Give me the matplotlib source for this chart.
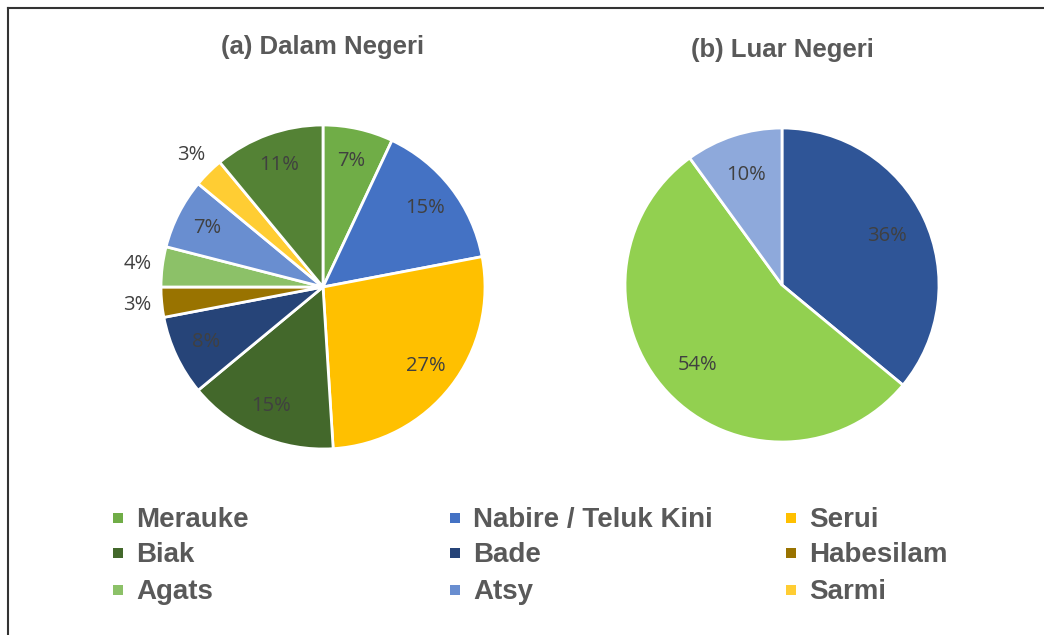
import numpy as np
import matplotlib
matplotlib.use('Agg')
import matplotlib.pyplot as plt
from matplotlib.lines import Line2D
from matplotlib.patches import Rectangle

# ---- data ----
dalam_names = ['Merauke', 'Nabire / Teluk Kini', 'Serui', 'Biak', 'Bade',
               'Habesilam', 'Agats', 'Atsy', 'Sarmi', 'Lainnya']
dalam_pct = [7, 15, 27, 15, 8, 3, 4, 7, 3, 11]
dalam_colors = ['#70AD47', '#4472C4', '#FFC000', '#43682B', '#264478',
                '#997300', '#8CC168', '#698ED0', '#FFCD33', '#548235']

luar_pct = [36, 54, 10]
luar_colors = ['#2F5597', '#92D050', '#8EA9DB']

# legend rows as shown (last slice has no visible legend entry)
legend_rows = [['Merauke', 'Nabire / Teluk Kini', 'Serui'],
               ['Biak', 'Bade', 'Habesilam'],
               ['Agats', 'Atsy', 'Sarmi']]

W, H = 1044, 635
fig = plt.figure(figsize=(W / 100, H / 100), dpi=100)
fig.patch.set_facecolor('white')

TXT = '#404040'
TITLE = '#595959'


def pie_axes(cx, cy, r):
    return fig.add_axes([(cx - r) / W, (H - cy - r) / H, 2 * r / W, 2 * r / H])


def draw_pie(ax, values, colors, inner=0.8, outer=1.15, small=4):
    wedges, _ = ax.pie(values, colors=colors, startangle=90, counterclock=False,
                       radius=1, wedgeprops=dict(edgecolor='white', linewidth=2))
    # pie() sets its own limits, so fix them afterwards
    ax.set_xlim(-1, 1)
    ax.set_ylim(-1, 1)
    ax.set_aspect('equal')
    ax.axis('off')
    for w, v in zip(wedges, values):
        ang = np.deg2rad((w.theta1 + w.theta2) / 2)
        d = outer if v <= small else inner
        ax.text(d * np.cos(ang), d * np.sin(ang), f'{v}%', ha='center', va='center',
                fontsize=14.5, color=TXT, family='Open Sans', clip_on=False)


ax1 = pie_axes(323, 287, 162)
draw_pie(ax1, dalam_pct, dalam_colors)

ax2 = pie_axes(782, 285, 157)
draw_pie(ax2, luar_pct, luar_colors, inner=0.74, small=0)

fig.text(323 / W, 1 - 47 / H, '(a) Dalam Negeri', ha='center', va='center',
         fontsize=18.5, fontweight='bold', color=TITLE, family='Liberation Sans')
fig.text(782 / W, 1 - 50 / H, '(b) Luar Negeri', ha='center', va='center',
         fontsize=18.5, fontweight='bold', color=TITLE, family='Liberation Sans')

# ---- legend ----
col_x = [118, 455, 791]
row_y = [518, 553, 590]
color_of = dict(zip(dalam_names, dalam_colors))
for r, row in enumerate(legend_rows):
    for c, name in enumerate(row):
        fig.patches.append(Rectangle(((col_x[c] - 5) / W, 1 - (row_y[r] + 5) / H),
                                     10 / W, 10 / H, transform=fig.transFigure,
                                     facecolor=color_of[name], edgecolor='none'))
        fig.text((col_x[c] + 18) / W, 1 - (row_y[r] + 2) / H, name, ha='left',
                 va='center', fontsize=20, fontweight='bold', color=TITLE,
                 family='Liberation Sans')

# ---- frame (top and left border) ----
fig.add_artist(Line2D([8 / W, 1], [1 - 8 / H, 1 - 8 / H], color='#333333', lw=1.5))
fig.add_artist(Line2D([8 / W, 8 / W], [0, 1 - 8 / H], color='#333333', lw=1.5))

fig.savefig('out.png', dpi=100, facecolor='white')
